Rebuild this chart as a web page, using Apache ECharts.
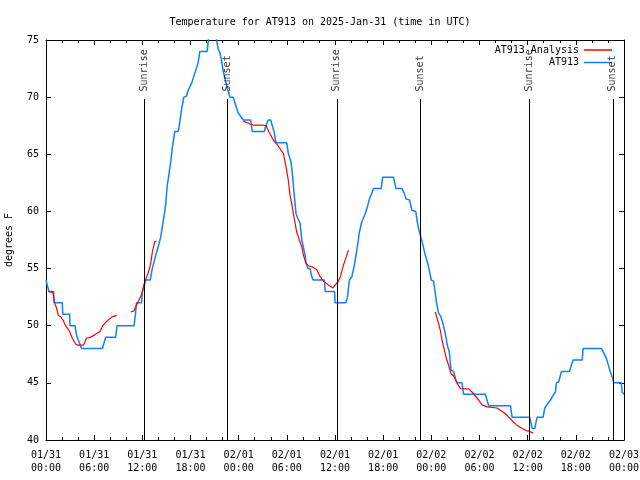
<!DOCTYPE html>
<html><head><meta charset="utf-8">
<script src="https://cdn.jsdelivr.net/npm/echarts@6/dist/echarts.min.js"></script>
<style>html,body{margin:0;padding:0;background:#fff}#c{width:640px;height:480px}</style>
</head><body><div id="c"></div>
<script>
// Hours since 2025-01-31 00:00 UTC
const obsHours = [0,0.36,0.95,1.01,2.03,2.09,2.94,3.0,3.61,3.86,4.11,4.44,7.03,7.44,8.68,8.85,10.97,11.14,11.27,11.89,12.02,12.43,12.99,13.24,13.68,14.09,14.30,14.59,14.80,14.92,15.09,15.24,15.51,15.76,16.05,16.46,16.58,16.88,17.17,17.51,17.71,18.13,18.54,18.95,19.17,20.08,20.29,20.54,20.91,21.16,21.45,21.66,21.87,22.07,22.29,22.70,22.91,23.32,23.53,23.95,24.37,24.57,25.49,25.69,27.19,27.49,27.69,27.99,28.11,28.40,28.65,29.99,30.18,30.52,30.73,30.90,31.15,31.36,31.64,31.86,32.27,32.39,32.61,32.89,33.10,33.27,34.68,34.77,35.95,36.01,37.35,37.55,37.80,38.10,38.38,38.72,39.04,39.34,39.54,39.76,40.04,40.29,40.59,40.79,41.75,41.94,43.29,43.59,44.34,44.62,44.83,45.28,45.58,46.06,46.21,46.41,46.83,47.24,47.65,47.99,48.28,48.49,48.65,48.90,49.18,49.45,49.74,50.02,50.24,50.45,50.78,50.99,51.20,51.82,52.02,54.73,55.14,57.85,58.06,60.26,60.56,60.88,61.18,61.93,62.13,62.43,62.84,63.18,63.46,63.59,63.87,64.21,65.21,65.42,65.67,66.79,66.92,69.20,69.49,69.83,70.11,70.33,70.54,70.74,71.66,71.76,72];
const obsTemps = [54,53,53,52,52,51,51,50,50,49,48.6,48,48,49,49,50,50,51,52,52,53,54,54,55,56.2,57.2,57.8,59.1,60,60.7,62.2,62.9,64.2,65.7,67,67,67.4,68.9,70,70.1,70.6,71.2,72.1,73,74,74,75.5,76,76,75.3,74.2,73.9,73.2,72.3,71.6,70.5,70,70,69.5,68.6,68.2,68,68,67,67,67.7,68,68,67.7,67,66,66,65.1,64.35,63,61.6,59.8,59.4,59,57.5,56.2,55.5,55,55,54.3,54,54,53,53,52,52,52.5,54,54.3,55.2,56.6,58.2,59.1,59.1,59.8,60.4,61.1,61.6,62,62,63,63,62,62,61.6,61.1,61,60.1,60,59.25,58.5,57.4,56.2,55.2,54,53.9,52.8,52,51.1,50.8,50.2,49.3,48.2,47.7,46.1,46,45.4,45,45,44,44,43,43,42,42,41,41,42,42,42.8,43.1,43.5,43.9,44.2,45,45.1,46,46,46.5,47,47,48,48,47.6,47.1,46.4,45.9,45.5,45,45,44.2,44];

const anaHours = [0.29,0.86,1.07,1.29,1.53,1.82,2.11,2.45,2.66,2.94,3.28,3.69,3.94,4.69,5.03,5.57,6.06,6.73,7.06,7.44,7.93,8.31,8.81,
  9.7,
  10.56,10.97,11.47,11.89,12.30,12.72,13.01,13.26,13.55,13.76,
  19.0,
  24.57,25.41,25.82,26.87,27.40,27.61,27.90,28.31,28.74,29.24,29.56,29.77,29.98,30.18,30.40,30.61,30.81,31.02,31.23,31.56,31.86,32.06,32.36,32.68,33.30,33.73,34.14,34.55,35.18,35.73,36.01,36.42,36.72,37.05,37.39,37.67,
  43.0,
  48.49,48.70,48.90,49.12,49.33,49.61,49.86,50.15,50.45,50.78,51.20,51.61,52.65,53.07,53.48,53.89,54.32,54.94,56.19,56.60,57.23,57.64,58.19,58.68,59.31,59.93,60.34,60.68];
const anaTemps = [53,52.9,52,51.6,50.9,50.8,50.5,50,49.9,49.5,48.9,48.4,48.3,48.3,48.9,49,49.2,49.5,50,50.3,50.6,50.8,50.9,
  null,
  51.2,51.3,52.1,52.7,53.85,54.6,55.3,56.5,57.35,57.4,
  null,
  67.9,67.65,67.56,67.56,67.5,67.4,66.8,66.25,65.9,65.4,65.1,64.35,63.6,62.75,61.4,60.7,59.8,59.0,58.2,57.5,56.9,56.2,55.5,55.25,55.1,54.9,54.3,53.9,53.56,53.3,53.56,53.9,54.4,55.3,56.0,56.6,
  null,
  51.2,51.1,50.2,49.6,48.75,47.9,47.15,46.56,45.8,45.6,45.0,44.5,44.47,44.2,43.85,43.5,43.07,42.9,42.8,42.6,42.3,42.0,41.6,41.3,41.0,40.8,40.73,40.6];

const sunriseHours = [12.26, 36.23, 60.24];
const sunsetHours = [22.58, 46.6, 70.6];
const tickDates = ['01/31','01/31','01/31','01/31','02/01','02/01','02/01','02/01','02/02','02/02','02/02','02/02','02/03'];
const tickTimes = ['00:00','06:00','12:00','18:00','00:00','06:00','12:00','18:00','00:00','06:00','12:00','18:00','00:00'];

const FONT = 'DejaVu Sans Mono';
const markerTop = 69.84;
const events = sunriseHours.map(h => ({h, name: 'Sunrise'})).concat(sunsetHours.map(h => ({h, name: 'Sunset'})));

const chart = echarts.init(document.getElementById('c'), null, {renderer: 'canvas'});
const axisCommon = {
  axisLine: {show: true, onZero: false, lineStyle: {color: '#000', width: 1}},
  splitLine: {show: false},
};
chart.setOption({
  animation: false,
  backgroundColor: '#fff',
  title: {text: 'Temperature for AT913 on 2025-Jan-31 (time in UTC)', left: 'center', top: 12,
    textStyle: {fontFamily: FONT, fontSize: 10, fontWeight: 'normal', color: '#000'}},
  legend: {data: [{name: 'AT913 Analysis', icon: 'rect'}, {name: 'AT913', icon: 'rect'}],
    orient: 'vertical', align: 'right', right: 28, top: 45, padding: 0,
    itemWidth: 28, itemHeight: 1.5, itemGap: 2.5,
    textStyle: {fontFamily: FONT, fontSize: 10, color: '#000'}},
  grid: {left: 46, right: 16, top: 40, bottom: 40, outerBoundsMode: 'none', containLabel: false},
  xAxis: [
    Object.assign({type: 'value', min: 0, max: 72, interval: 6, position: 'bottom',
      axisTick: {show: true, inside: true, length: 5, lineStyle: {color: '#000'}},
      minorTick: {show: true, splitNumber: 3, length: 3, lineStyle: {color: '#000'}},
      axisLabel: {fontFamily: FONT, fontSize: 10, color: '#000', lineHeight: 13, margin: 9,
        formatter: v => tickDates[Math.round(v / 6)] + '\n' + tickTimes[Math.round(v / 6)]}}, axisCommon),
    Object.assign({type: 'value', min: 0, max: 72, interval: 6, position: 'top',
      axisTick: {show: true, inside: true, length: 5, lineStyle: {color: '#000'}},
      minorTick: {show: true, splitNumber: 3, length: 3, lineStyle: {color: '#000'}},
      axisLabel: {show: false}}, axisCommon)
  ],
  yAxis: [
    Object.assign({type: 'value', min: 40, max: 75, interval: 5, position: 'left',
      name: 'degrees F', nameLocation: 'middle', nameGap: 32, nameRotate: 90,
      nameTextStyle: {fontFamily: FONT, fontSize: 10, color: '#000'},
      axisTick: {show: true, inside: true, length: 5, lineStyle: {color: '#000'}},
      axisLabel: {fontFamily: FONT, fontSize: 10, color: '#000', margin: 7}}, axisCommon),
    Object.assign({type: 'value', min: 40, max: 75, interval: 5, position: 'right',
      axisTick: {show: true, inside: true, length: 5, lineStyle: {color: '#000'}},
      axisLabel: {show: false}}, axisCommon)
  ],
  series: [
    {name: 'AT913 Analysis', type: 'line', showSymbol: false, symbol: 'none', connectNulls: false,
      lineStyle: {color: '#ff0000', width: 1.2}, itemStyle: {color: '#ff0000'}, z: 3,
      data: anaHours.map((h, i) => [h, anaTemps[i] == null ? '-' : anaTemps[i]])},
    {name: 'AT913', type: 'line', showSymbol: false, symbol: 'none',
      lineStyle: {color: '#1080ff', width: 1.5}, itemStyle: {color: '#1080ff'}, z: 2,
      data: obsHours.map((h, i) => [h, obsTemps[i]])},
    {name: 'events', type: 'scatter', symbolSize: 1, itemStyle: {color: 'rgba(0,0,0,0)'}, z: 4, silent: true,
      label: {show: true, position: 'top', distance: 7, rotate: 90, align: 'left', verticalAlign: 'middle',
        formatter: '{b}', fontFamily: FONT, fontSize: 10, color: '#000'},
      data: events.map(e => ({name: e.name, value: [e.h, markerTop]})),
      markLine: {silent: true, symbol: 'none', label: {show: false},
        lineStyle: {color: '#000', width: 1, type: 'solid'},
        data: events.map(e => [{coord: [e.h, 40]}, {coord: [e.h, markerTop]}])}}
  ]
});
</script></body></html>
